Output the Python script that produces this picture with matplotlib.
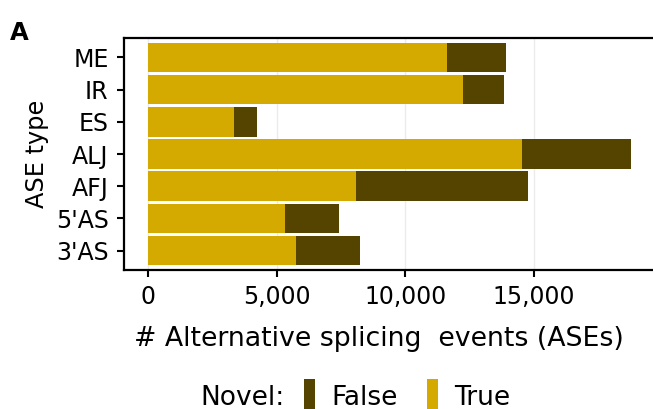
import numpy as np
import matplotlib
matplotlib.use('Agg')
import matplotlib.pyplot as plt
from matplotlib.patches import Patch
from matplotlib.ticker import FuncFormatter

# ASE counts per type, split by novelty
ase_types = ['3\'AS', '5\'AS', 'AFJ', 'ALJ', 'ES', 'IR', 'ME']
novel_true = [5730, 5310, 8070, 14530, 3320, 12230, 11610]
novel_false = [2490, 2100, 6690, 4240, 900, 1600, 2300]

col_true = '#d4aa00'
col_false = '#554400'

plt.rcParams['font.family'] = 'DejaVu Sans'

fig = plt.figure(figsize=(6.53, 4.09), dpi=100)
ax = fig.add_axes([124 / 653, 139 / 409, 531 / 653, 232 / 409])

pos = np.arange(len(ase_types))
t = np.array(novel_true)
f = np.array(novel_false)
ax.barh(pos, t, height=0.92, color=col_true, zorder=2)
ax.barh(pos, f, left=t, height=0.92, color=col_false, zorder=2)

total_max = (t + f).max()
ax.set_xlim(-0.05 * total_max, 1.05 * total_max)
ax.set_ylim(-0.6, len(ase_types) - 0.4)

ax.set_xticks([0, 5000, 10000, 15000])
ax.xaxis.set_major_formatter(FuncFormatter(lambda v, p: '{:,.0f}'.format(v)))
ax.set_yticks(pos)
ax.set_yticklabels(ase_types)

ax.grid(axis='x', color='#ebebeb', linewidth=1.0, zorder=0)
ax.set_axisbelow(True)

for s in ['left', 'bottom', 'top', 'right']:
    ax.spines[s].set_linewidth(1.6)
    ax.spines[s].set_color('black')

ax.tick_params(axis='both', labelsize=17, length=5, width=1.5, colors='black')
ax.tick_params(axis='y', pad=6)
ax.tick_params(axis='x', pad=6)

ax.set_xlabel('# Alternative splicing  events (ASEs)', fontsize=19.3)
ax.xaxis.label.set_va('baseline')
ax.xaxis.set_label_coords(0.48, -76 / 232)
ax.set_ylabel('ASE type', fontsize=17.3, labelpad=5)

fig.text(10 / 653, 1 - 40 / 409, 'A', fontsize=17.5, fontweight='heavy', ha='left', va='baseline')

# legend along the bottom
fig.text(200 / 653, 4 / 409, 'Novel:', fontsize=19, ha='left', va='baseline')
handles = [Patch(facecolor=col_false, label='False'), Patch(facecolor=col_true, label='True')]
fig.legend(handles=handles, loc='lower left', bbox_to_anchor=(304 / 653, -3.5 / 409), ncol=2,
           frameon=False, fontsize=19, handlelength=0.43, handleheight=1.55,
           handletextpad=0.6, columnspacing=1.1, borderaxespad=0, borderpad=0)

fig.savefig('out.png', dpi=100)
